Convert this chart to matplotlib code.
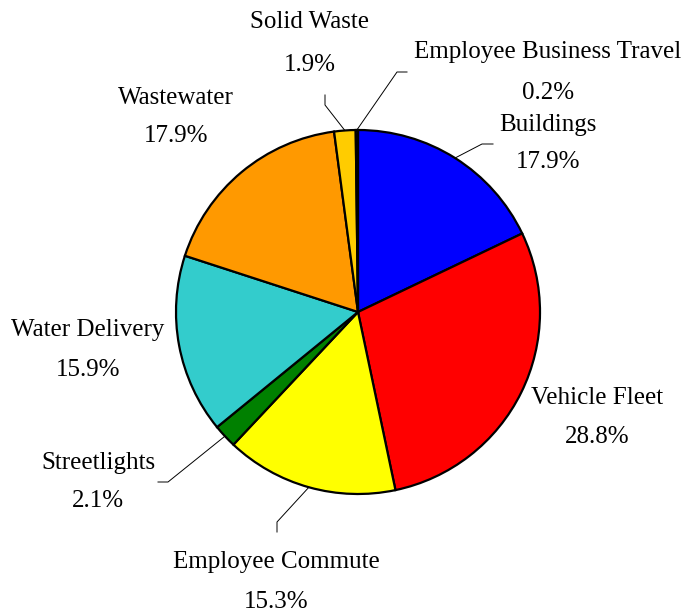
import numpy as np
import matplotlib
matplotlib.use("Agg")
import matplotlib.pyplot as plt

# emissions share by sector, clockwise from 12 o'clock
sectors = ["Buildings", "Vehicle Fleet", "Employee Commute", "Streetlights",
           "Water Delivery", "Wastewater", "Solid Waste", "Employee Business Travel"]
shares = [17.9, 28.8, 15.3, 2.1, 15.9, 17.9, 1.9, 0.2]
colors = ["#0000FF", "#FF0000", "#FFFF00", "#008000",
          "#33CCCC", "#FF9900", "#FFCC00", "#9999FF"]

W, H = 688, 612
fig = plt.figure(figsize=(W / 100, H / 100), dpi=100)
ax = fig.add_axes([0, 0, 1, 1])

cx, cy, r = 358, H - 312, 182
wedges, _ = ax.pie(shares, colors=colors, startangle=90, counterclock=False,
                   center=(cx, cy), radius=r, frame=True,
                   wedgeprops=dict(edgecolor="black", linewidth=1.6))
ax.set_xlim(0, W)
ax.set_ylim(0, H)
ax.set_aspect("equal")
ax.axis("off")

font = dict(family=["Liberation Serif", "DejaVu Serif"], fontsize=18, color="black")

# label centre (name line, pct line) in image pixels, plus leader elbow points
label_pos = {
    "Buildings": (548, 125, 162, [(493, 144), (482, 144)]),
    "Vehicle Fleet": (597, 398, 437, None),
    "Employee Commute": (276, 562, 602, [(277, 532), (277, 522)]),
    "Streetlights": (98, 463, 501, [(158, 482), (168, 482)]),
    "Water Delivery": (88, 330, 370, None),
    "Wastewater": (176, 98, 136, None),
    "Solid Waste": (310, 22, 65, [(325, 95), (325, 105)]),
    "Employee Business Travel": (548, 52, 93, [(407, 72), (397, 72)]),
}

for w, name, val in zip(wedges, sectors, shares):
    x, y1, y2, leader = label_pos[name]
    ax.text(x, H - y1, name, ha="center", va="center", **font)
    ax.text(x, H - y2, f"{val:.1f}%", ha="center", va="center", **font)
    if leader:
        mid = np.deg2rad((w.theta1 + w.theta2) / 2)
        ax_, ay_ = cx + r * np.cos(mid), cy + r * np.sin(mid)
        xs = [p[0] for p in leader] + [ax_]
        ys = [H - p[1] for p in leader] + [ay_]
        ax.plot(xs, ys, color="black", lw=0.7)

fig.savefig("out.png", dpi=100)
